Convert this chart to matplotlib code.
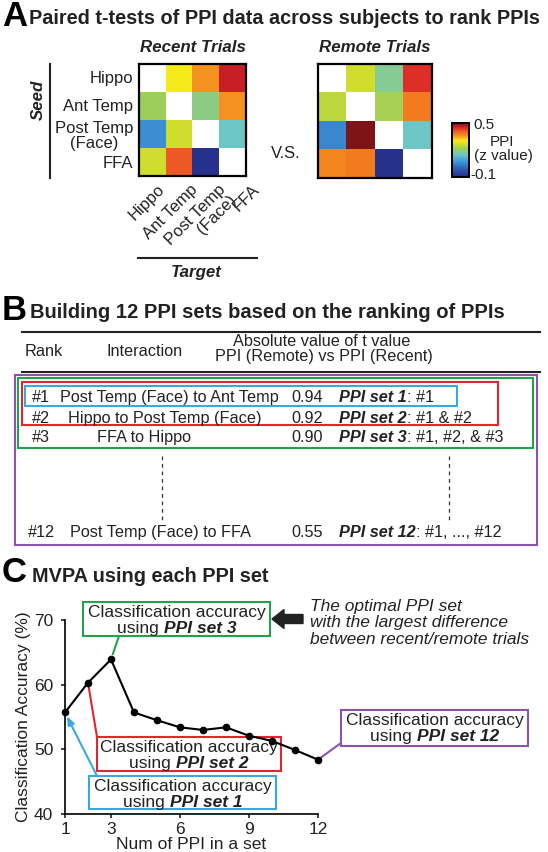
import numpy as np
import matplotlib
matplotlib.use('Agg')
import matplotlib.pyplot as plt
from matplotlib.colors import LinearSegmentedColormap, Normalize
from matplotlib.cm import ScalarMappable
from matplotlib.patches import Rectangle, FancyArrow

plt.rcParams['font.family'] = ['Liberation Sans', 'DejaVu Sans']

# ------------------- data -------------------
regions = ['Hippo', 'Ant Temp', 'Post Temp\n(Face)', 'FFA']
recent = np.array([
    [np.nan, 0.30, 0.36, 0.46],
    [0.21, np.nan, 0.19, 0.36],
    [0.06, 0.26, np.nan, 0.15],
    [0.26, 0.41, -0.09, np.nan],
])
remote = np.array([
    [np.nan, 0.26, 0.18, 0.44],
    [0.24, np.nan, 0.22, 0.38],
    [0.05, 0.50, np.nan, 0.15],
    [0.37, 0.38, -0.09, np.nan],
])
ppi_vmin, ppi_vmax = -0.1, 0.5

ranks = ['#1', '#2', '#3', '#12']
interactions = ['Post Temp (Face) to Ant Temp', 'Hippo to Post Temp (Face)',
                'FFA to Hippo', 'Post Temp (Face) to FFA']
abs_t = ['0.94', '0.92', '0.90', '0.55']
set_names = ['PPI set 1', 'PPI set 2', 'PPI set 3', 'PPI set 12']
set_members = [': #1', ': #1 & #2', ': #1, #2, & #3', ': #1, ..., #12']

n_ppi = np.arange(1, 13)
accuracy = [55.7, 60.3, 63.9, 55.7, 54.5, 53.4, 53.0, 53.4, 52.1, 51.3, 49.9, 48.4]

C_BLUE = '#3aa8dc'
C_RED = '#e2262d'
C_GREEN = '#22a24c'
C_PURPLE = '#8c55aa'

W, H = 548, 852
fig = plt.figure(figsize=(W / 100, H / 100), dpi=100)
bg = fig.add_axes([0, 0, 1, 1])
bg.set_xlim(0, W)
bg.set_ylim(H, 0)
bg.axis('off')
renderer = fig.canvas.get_renderer()


def px_axes(x0, y0, x1, y1):
    return fig.add_axes([x0 / W, 1 - y1 / H, (x1 - x0) / W, (y1 - y0) / H])


def rich(x, y, parts, ha='left', size=12):
    # parts: (text, weight, style); baseline at y in pixels
    ts, widths = [], []
    for s, w, st in parts:
        t = bg.text(0, y, s, fontsize=size, fontweight=w, fontstyle=st, va='baseline', ha='left',
                    color='#222222')
        widths.append(t.get_window_extent(renderer).width)
        ts.append(t)
    total = sum(widths)
    x0 = x - total / 2 if ha == 'center' else x
    for t, w in zip(ts, widths):
        t.set_x(x0)
        x0 += w
    return ts


ppi_cmap = LinearSegmentedColormap.from_list('ppi', [
    (0.00, '#262c88'), (0.15, '#2f5db4'), (0.30, '#3f9ddb'), (0.42, '#6fc8c6'),
    (0.52, '#9fcf5a'), (0.60, '#cfdd2c'), (0.67, '#f7ec1a'), (0.77, '#f5901f'),
    (0.85, '#ee5a24'), (0.92, '#d8212a'), (1.00, '#7d1416')])
ppi_cmap.set_bad('white')

# ------------------- A -------------------
bg.text(2, 17, 'A', fontsize=25, fontweight='bold', va='center')
bg.text(29, 18, 'Paired t-tests of PPI data across subjects to rank PPIs',
        fontsize=14.3, fontweight='bold', va='center', color='#222222')

for mat, box, title in [(recent, (139, 64, 246, 176), 'Recent Trials'),
                        (remote, (318, 64, 432, 178), 'Remote Trials')]:
    ax = px_axes(*box)
    ax.imshow(mat, cmap=ppi_cmap, vmin=ppi_vmin, vmax=ppi_vmax, aspect='auto', interpolation='nearest')
    ax.set_xticks([])
    ax.set_yticks([])
    for sp in ax.spines.values():
        sp.set_linewidth(1.6)
    bg.text((box[0] + box[2]) / 2, 47, title, fontsize=12.2, fontweight='bold',
            fontstyle='italic', ha='center', va='center', color='#222222')

row_y = [78, 106, 136, 164]
for lab, y in zip(regions, row_y):
    bg.text(133, y, lab, fontsize=12, ha='right', va='center', multialignment='center',
            linespacing=0.95, color='#222222')
bg.plot([50, 50], [64, 178], color='#222222', lw=1.5)
bg.text(38, 100, 'Seed', fontsize=12.2, fontweight='bold', fontstyle='italic', rotation=90,
        ha='center', va='center', color='#222222')

col_end = [157, 190, 218, 252]
for lab, x in zip(regions, col_end):
    bg.text(x, 182, lab, fontsize=12, rotation=45, rotation_mode='anchor', ha='right', va='top',
            multialignment='right', linespacing=0.95, color='#222222')
bg.plot([138, 257], [258, 258], color='#222222', lw=1.5)
bg.text(196, 273, 'Target', fontsize=12.2, fontweight='bold', fontstyle='italic',
        ha='center', va='center', color='#222222')

bg.text(286, 153, 'V.S.', fontsize=12, ha='center', va='center', color='#222222')

cax = px_axes(452, 123, 469, 177)
cb = fig.colorbar(ScalarMappable(norm=Normalize(ppi_vmin, ppi_vmax), cmap=ppi_cmap), cax=cax)
cb.set_ticks([])
cb.outline.set_linewidth(1.4)
bg.text(473, 125, '0.5', fontsize=11, va='center', color='#222222')
bg.text(502, 142, 'PPI', fontsize=11, ha='center', va='center', color='#222222')
bg.text(503, 156, '(z value)', fontsize=11, ha='center', va='center', color='#222222')
bg.text(470, 175, '-0.1', fontsize=11, va='center', color='#222222')

# ------------------- B -------------------
bg.text(2, 310, 'B', fontsize=25, fontweight='bold', va='center')
bg.text(30, 312, 'Building 12 PPI sets based on the ranking of PPIs',
        fontsize=14.5, fontweight='bold', va='center', color='#222222')
bg.plot([22, 540], [332, 332], color='#222222', lw=1.5)
bg.plot([22, 540], [372, 372], color='#222222', lw=1.5)
bg.text(25, 352, 'Rank', fontsize=11.7, va='center', color='#222222')
bg.text(107, 352, 'Interaction', fontsize=11.7, va='center', color='#222222')
bg.text(322, 342, 'Absolute value of t value', fontsize=11.7, ha='center', va='center', color='#222222')
bg.text(324, 357, 'PPI (Remote) vs PPI (Recent)', fontsize=11.7, ha='center', va='center', color='#222222')

for (x0, y0, x1, y1), c in [((15, 375, 537, 545), C_PURPLE), ((18, 378, 533, 448), C_GREEN),
                            ((22, 382, 498, 425), C_RED), ((25, 386, 457, 406), C_BLUE)]:
    bg.add_patch(Rectangle((x0, y0), x1 - x0, y1 - y0, fill=False, ec=c, lw=1.5))

row_base = [402, 423, 442, 537]
rank_x = [32, 32, 32, 28]
inter_x = [60, 68, 97, 70]
for i in range(4):
    bg.text(rank_x[i], row_base[i], ranks[i], fontsize=11.7, va='baseline', color='#222222')
    bg.text(inter_x[i], row_base[i], interactions[i], fontsize=11.7, va='baseline', color='#222222')
    bg.text(291, row_base[i], abs_t[i], fontsize=11.7, va='baseline', color='#222222')
    rich(339, row_base[i], [(set_names[i], 'bold', 'italic'), (set_members[i], 'normal', 'normal')],
         size=11.7)
for x in [162, 449]:
    bg.plot([x, x], [456, 522], color='#333333', lw=0.9, ls=(0, (3, 3)))

# ------------------- C -------------------
bg.text(2, 573, 'C', fontsize=25, fontweight='bold', va='center')
bg.text(32, 576, 'MVPA using each PPI set', fontsize=14.3, fontweight='bold', va='center',
        color='#222222')

ax = px_axes(65, 620, 318, 814)
ax.patch.set_alpha(0)
ax.plot(n_ppi, accuracy, color='black', lw=1.5, marker='o', ms=4.5, clip_on=False, zorder=5)
ax.set_xlim(1, 12)
ax.set_ylim(40, 70)
ax.set_xticks([1, 3, 6, 9, 12])
ax.set_yticks([40, 50, 60, 70])
ax.spines[['top', 'right']].set_visible(False)
for sp in ax.spines.values():
    sp.set_linewidth(1.2)
ax.tick_params(direction='out', length=3, width=1.2, labelsize=12.5, colors='#222222')
ax.tick_params(axis='y', pad=5.5)
ax.tick_params(axis='x', pad=3)
ax.set_xlabel('Num of PPI in a set', fontsize=12.5, labelpad=0, color='#222222')
ax.set_ylabel('Classification Accuracy (%)', fontsize=12.5, labelpad=2, color='#222222')

boxes_c = [((89, 776, 276, 809), C_BLUE, 'PPI set 1'),
           ((97, 737, 281, 771), C_RED, 'PPI set 2'),
           ((83, 602, 270, 636), C_GREEN, 'PPI set 3'),
           ((341, 710, 528, 746), C_PURPLE, 'PPI set 12')]
for (x0, y0, x1, y1), c, name in boxes_c:
    bg.add_patch(Rectangle((x0, y0), x1 - x0, y1 - y0, fc='white', ec=c, lw=1.5))
    xc = (x0 + x1) / 2
    bg.text(xc, y0 + 15, 'Classification accuracy', fontsize=12.5, ha='center', va='baseline',
            color='#222222')
    rich(xc, y0 + 31, [('using ', 'normal', 'normal'), (name, 'bold', 'italic')], ha='center', size=12.5)

# connectors from boxes to points
bg.annotate('', xy=(1, accuracy[0]), xycoords=ax.transData, xytext=(97, 776), textcoords='data',
            arrowprops=dict(arrowstyle='-|>,head_length=0.5,head_width=0.2', color=C_BLUE, lw=1.5,
                            shrinkA=0, shrinkB=3))
bg.annotate('', xy=(2, accuracy[1]), xycoords=ax.transData, xytext=(97, 737), textcoords='data',
            arrowprops=dict(arrowstyle='-', color=C_RED, lw=1.5, shrinkA=0, shrinkB=2))
bg.annotate('', xy=(3, accuracy[2]), xycoords=ax.transData, xytext=(119, 636), textcoords='data',
            arrowprops=dict(arrowstyle='-', color=C_GREEN, lw=1.5, shrinkA=0, shrinkB=4))
bg.annotate('', xy=(12, accuracy[11]), xycoords=ax.transData, xytext=(341, 743), textcoords='data',
            arrowprops=dict(arrowstyle='-', color=C_PURPLE, lw=1.5, shrinkA=0, shrinkB=2))

bg.add_patch(FancyArrow(303, 619, -31, 0, width=9, head_width=19, head_length=12,
                        length_includes_head=True, color='#222222'))
bg.text(310, 607, 'The optimal PPI set', fontsize=12.5, fontstyle='italic', va='center', color='#222222')
bg.text(310, 623, 'with the largest difference', fontsize=12.5, fontstyle='italic', va='center',
        color='#222222')
bg.text(310, 639, 'between recent/remote trials', fontsize=12.5, fontstyle='italic', va='center',
        color='#222222')

fig.savefig('out.png', dpi=100)
